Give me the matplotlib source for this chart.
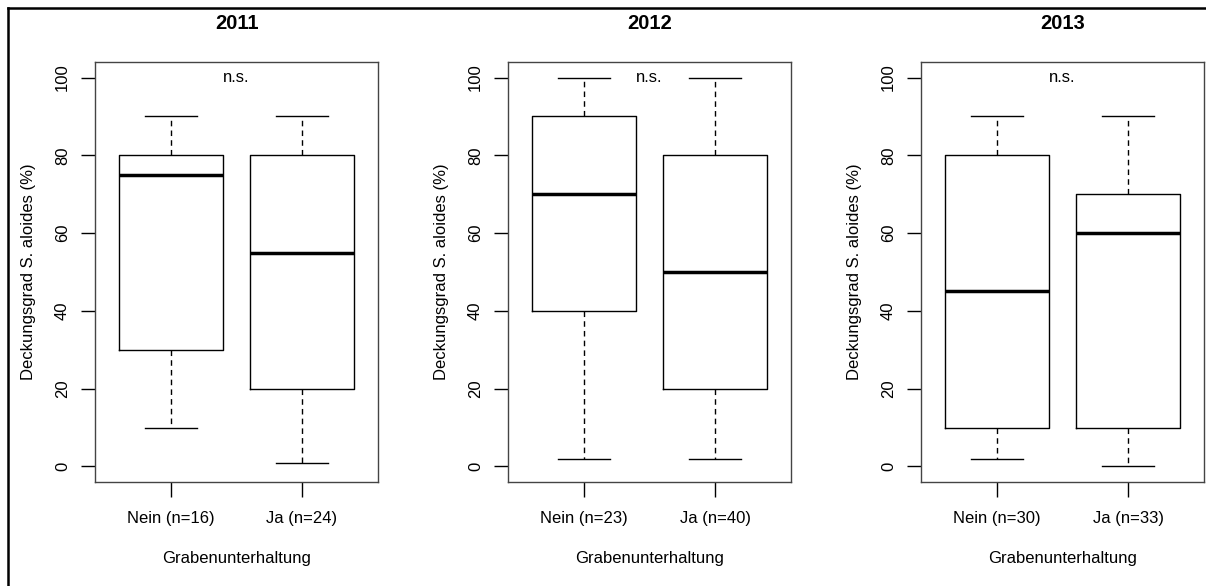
import numpy as np
import matplotlib
matplotlib.use('Agg')
import matplotlib.pyplot as plt
from matplotlib.lines import Line2D

fontSize = 12
plt.rcParams['font.family'] = ['Liberation Sans', 'DejaVu Sans']
plt.rcParams['font.size'] = fontSize

# data: whisker low, q1, median, q3, whisker high
years = ['2011', '2012', '2013']
groups = ['Nein', 'Ja']
counts = [[16, 24], [23, 40], [30, 33]]
whisLow = [[10, 1], [2, 2], [2, 0]]
q1 = [[30, 20], [40, 20], [10, 10]]
med = [[75, 55], [70, 50], [45, 60]]
q3 = [[80, 80], [90, 80], [80, 70]]
whisHigh = [[90, 90], [100, 100], [90, 90]]
signif = ['n.s.', 'n.s.', 'n.s.']

W, H = 1206, 586
fig = plt.figure(figsize=(W / 100, H / 100), dpi=100)

lefts = [95, 508, 921]
axW, axTop, axBot = 283, 62, 482

for i, year in enumerate(years):
    ax = fig.add_axes([lefts[i] / W, 1 - axBot / H, axW / W, (axBot - axTop) / H])
    stats = []
    for j, g in enumerate(groups):
        stats.append(dict(whislo=whisLow[i][j], q1=q1[i][j], med=med[i][j],
                          q3=q3[i][j], whishi=whisHigh[i][j], fliers=[],
                          label='%s (n=%d)' % (g, counts[i][j])))
    ax.bxp(stats, positions=[1, 2], widths=0.8, showfliers=False,
           boxprops=dict(color='black', linewidth=1.0),
           whiskerprops=dict(color='black', linewidth=1.0, linestyle=(0, (4, 3))),
           capprops=dict(color='black', linewidth=1.0),
           medianprops=dict(color='black', linewidth=2.5),
           capwidths=0.4)
    ax.set_xlim(0.42, 2.58)
    ax.set_ylim(-4, 104)
    ax.set_yticks([0, 20, 40, 60, 80, 100])
    for lab in ax.get_yticklabels():
        lab.set_rotation(90)
        lab.set_va('center')
    ax.tick_params(axis='y', length=10, pad=8, width=1.0, labelsize=fontSize)
    ax.tick_params(axis='x', length=11, pad=10, width=1.0, labelsize=fontSize)
    for s in ax.spines.values():
        s.set_color('#444444')
        s.set_linewidth(1.0)
    ax.set_ylabel('Deckungsgrad S. aloides (%)', labelpad=14)
    ax.set_xlabel('Grabenunterhaltung', labelpad=18)
    ax.set_title(year, fontweight='bold', fontsize=14.5, pad=24)
    ax.text(1.5, 100, signif[i], ha='center', va='center', fontsize=fontSize)

# frame lines at the top and left of the figure
fig.add_artist(Line2D([8 / W, 1], [1 - 8 / H, 1 - 8 / H], color='black', linewidth=1.8))
fig.add_artist(Line2D([8 / W, 8 / W], [0, 1 - 8 / H], color='black', linewidth=1.8))

plt.savefig('out.png', dpi=100)
